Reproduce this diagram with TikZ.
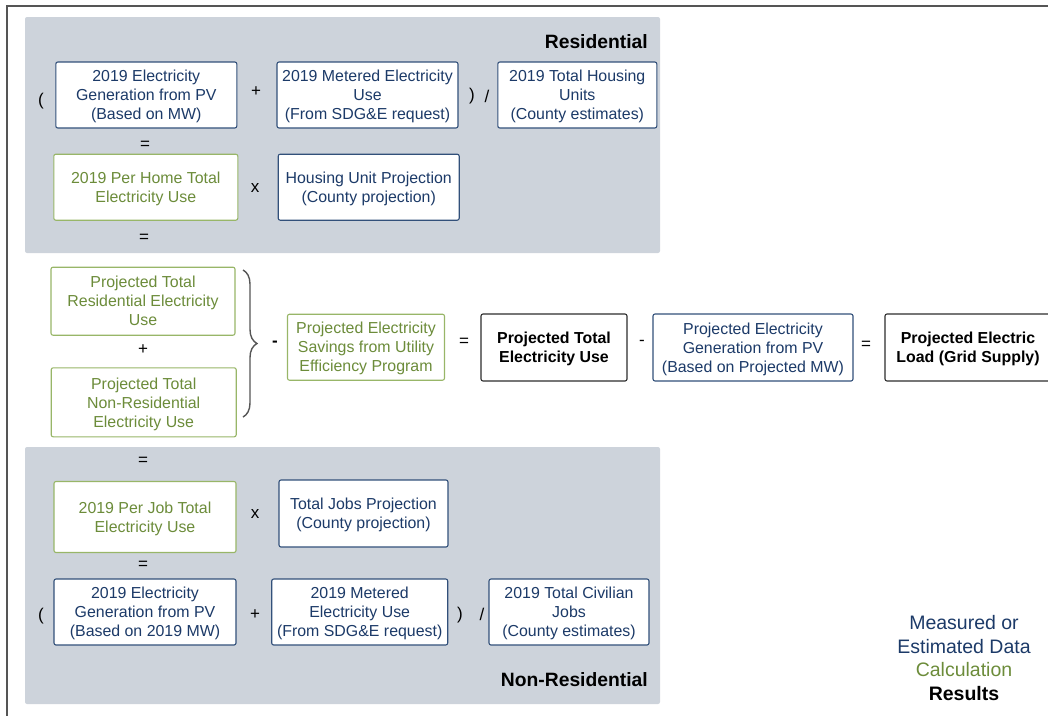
\documentclass[tikz,border=0pt]{standalone}
\usepackage{fontspec}
\setmainfont{Liberation Sans}
\usepackage{tikz}
\usetikzlibrary{decorations.pathreplacing}

\definecolor{panelgray}{RGB}{205,211,219}
\definecolor{navytext}{RGB}{28,58,104}
\definecolor{navyline}{RGB}{50,80,122}
\definecolor{greentext}{RGB}{108,140,58}
\definecolor{greenline}{RGB}{152,182,104}
\definecolor{framegray}{RGB}{85,85,85}
\definecolor{resultline}{RGB}{45,45,45}

\tikzset{
  databox/.style={font=\fontsize{15.9}{19}\selectfont, draw=navyline, text=navytext, fill=white, line width=1.1pt, rounded corners=2pt, align=center, inner sep=0pt, text depth=0pt},
  calcbox/.style={databox, draw=greenline, text=greentext},
  resultbox/.style={databox, draw=resultline, text=black, font=\bfseries\fontsize{15.9}{19}\selectfont},
  boxsize/.style 2 args={minimum width=#1pt, minimum height=#2pt},
  op/.style={font=\fontsize{17}{20}\selectfont, inner sep=0pt},
  heading/.style={font=\bfseries\fontsize{19.3}{23}\selectfont, anchor=east, inner sep=0pt},
}

\begin{document}
\begin{tikzpicture}[x=1pt,y=-1pt]

    \useasboundingbox (0,0) rectangle (1048,715);
    \clip (0,0) rectangle (1048,715);
    \draw[line width=1.6pt, draw=framegray] (7,6) rectangle (1070,740);

    \fill[panelgray, rounded corners=2pt] (25,17) rectangle (660,253);
    \fill[panelgray, rounded corners=2pt] (25,447) rectangle (660,704);

    \node[heading] (resTitle) at (648,42) {Residential};
    \node[op] (resOpen) at (41,101) {(};
    \node[databox, boxsize={181}{66}] (resPV) at (146.3,95) {2019 Electricity\\Generation from PV\\(Based on MW)};
    \node[op] (resPlus) at (256,92) {+};
    \node[databox, boxsize={181}{66}] (resMetered) at (367.5,95) {2019 Metered Electricity\\Use\\(From SDG\&E request)};
    \node[op] (resClose) at (472,96) {)};
    \node[op] (resDiv) at (487,96) {/};
    \node[databox, boxsize={159}{66}] (resUnits) at (577.3,95) {2019 Total Housing\\Units\\(County estimates)};
    \node[op] (resEqA) at (145,145) {=};
    \node[calcbox, boxsize={184}{66}] (resPerHome) at (145.8,187.2) {2019 Per Home Total\\Electricity Use};
    \node[op] (resTimes) at (255,188) {x};
    \node[databox, boxsize={181}{66}] (resProj) at (368.7,187.2) {Housing Unit Projection\\(County projection)};
    \node[op] (resEqB) at (144,238) {=};

    \node[calcbox, boxsize={184}{68}] (totRes) at (143,301.2) {Projected Total\\Residential Electricity\\Use};
    \node[op] (totPlus) at (143,350) {+};
    \node[calcbox, boxsize={185}{69}] (totNonRes) at (143.7,402.3) {Projected Total\\Non-Residential\\Electricity Use};
    \coordinate (braceTop) at (243,270);
    \coordinate (braceBottom) at (243,417);
    \draw[line width=1.4pt, draw=framegray, decorate, decoration={brace, amplitude=14pt}] (braceTop) -- (braceBottom);
    \node[op, font=\bfseries\fontsize{17}{20}\selectfont] (totMinus) at (275,344) {-};
    \node[calcbox, boxsize={157}{66}] (savings) at (366,347.2) {Projected Electricity\\Savings from Utility\\Efficiency Program};
    \node[op] (totEq) at (464,342) {=};
    \node[resultbox, boxsize={146}{67}] (totUse) at (554,347.5) {Projected Total\\Electricity Use};
    \node[op] (pvMinus) at (642,343) {-};
    \node[databox, boxsize={200}{67}] (projPV) at (753,347.5) {Projected Electricity\\Generation from PV\\(Based on Projected MW)};
    \node[op] (loadEq) at (866,345) {=};
    \node[resultbox, boxsize={166}{67}] (gridLoad) at (968,347.5) {Projected Electric\\Load (Grid Supply)};

    \node[op] (nonEqA) at (143,461) {=};
    \node[calcbox, boxsize={182}{71}] (nonPerJob) at (145,517) {2019 Per Job Total\\Electricity Use};
    \node[op] (nonTimes) at (255,514) {x};
    \node[databox, boxsize={169}{67}] (nonProj) at (363.5,513.5) {Total Jobs Projection\\(County projection)};
    \node[op] (nonEqB) at (143,565) {=};
    \node[op] (nonOpen) at (41,616) {(};
    \node[databox, boxsize={182}{66}] (nonPV) at (145,612) {2019 Electricity\\Generation from PV\\(Based on 2019 MW)};
    \node[op] (nonPlus) at (255,615) {+};
    \node[databox, boxsize={176}{66}] (nonMetered) at (359.7,612) {2019 Metered\\Electricity Use\\(From SDG\&E request)};
    \node[op] (nonClose) at (460,615) {)};
    \node[op] (nonDiv) at (482,614) {/};
    \node[databox, boxsize={160}{66}] (nonJobs) at (569,612) {2019 Total Civilian\\Jobs\\(County estimates)};
    \node[heading] (nonTitle) at (648,680) {Non-Residential};

    \node[align=center, inner sep=0pt, font=\fontsize{19.5}{23.6}\selectfont] (legend) at (964,658) {\textcolor{navytext}{Measured or}\\\textcolor{navytext}{Estimated Data}\\\textcolor{greentext}{Calculation}\\\textbf{Results}};

\end{tikzpicture}
\end{document}
